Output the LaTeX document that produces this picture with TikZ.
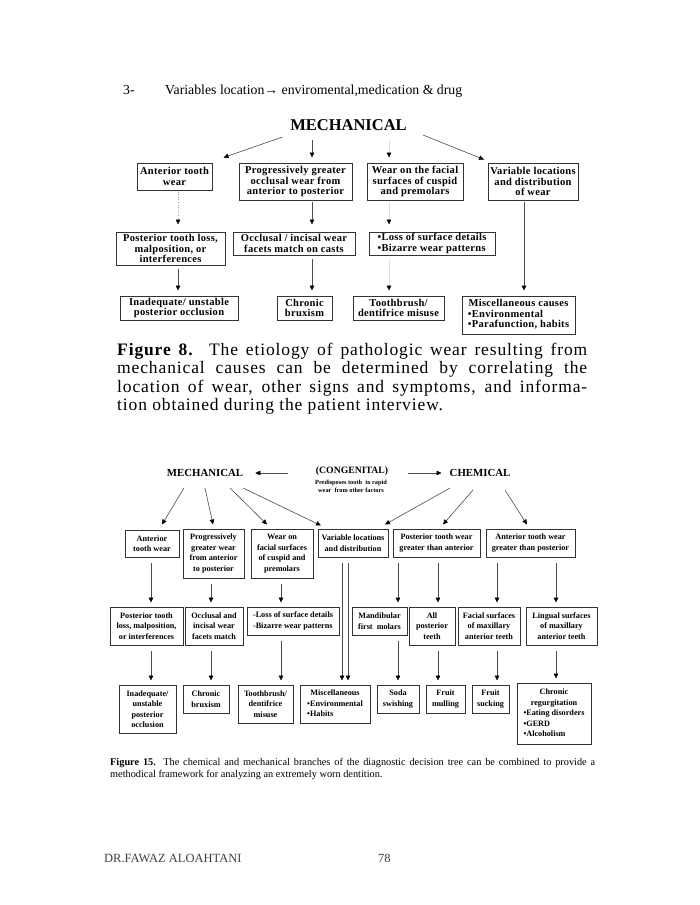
\documentclass[tikz,border=0pt]{standalone}
\usepackage{fontspec}
\setmainfont{Liberation Serif}
\newfontfamily\spaced[LetterSpace=3]{Liberation Serif}
\newfontfamily\capfont[LetterSpace=5]{Liberation Serif}
\usetikzlibrary{arrows.meta,calc}
\begin{document}
\begin{tikzpicture}[x=1pt,y=-1pt,
  sz/.style 2 args={minimum width=#1pt, minimum height=#2pt},
  tbox/.style={draw=black!80, line width=1pt, inner sep=0pt, align=center,
    font=\spaced\bfseries\fontsize{10.5}{10.5}\selectfont},
  bbox/.style={draw=black!80, line width=1pt, inner sep=0pt, align=center,
    font=\bfseries\fontsize{8.2}{10.5}\selectfont},
  arr/.style={draw=black!70, line width=0.6pt, -{Triangle[length=5pt,width=4.5pt,color=black]}},
  farr/.style={draw=black!12, line width=0.6pt, -{Triangle[length=5pt,width=4.5pt,color=black]}},
  darr/.style={draw=black!35, line width=0.6pt, dotted, -{Triangle[length=5pt,width=4.5pt,color=black]}},
  tv/.style={shorten <=1pt, shorten >=7pt},
  bv/.style={shorten <=5pt, shorten >=4pt},
  lbl/.style={inner sep=0pt}
]
\fill[white] (0,0) rectangle (700,905);
\useasboundingbox (0,0) rectangle (700,905);

% ---------- heading ----------
\node[lbl, anchor=base west, font=\fontsize{13.8}{16}\selectfont] (n3) at (123,94) {3-};
\node[lbl, anchor=base west, font=\fontsize{13.8}{16}\selectfont] (h3) at (165,94) {Variables location→ enviromental,medication \& drug};

% ---------- top diagram ----------
\node[lbl, font=\bfseries\fontsize{16.5}{18}\selectfont] (M1) at (348.5,125) {MECHANICAL};

\node[tbox, sz={75}{27}] (A1) at (174.5,176.5) {Anterior tooth\\wear};
\node[tbox, sz={113}{37}] (A2) at (295.5,181.5) {Progressively greater\\occlusal wear from\\anterior to posterior};
\node[tbox, sz={96}{37}] (A3) at (415,181.5) {Wear on the facial\\surfaces of cuspid\\and premolars};
\node[tbox, sz={90}{37}] (A4) at (533,181.5) {Variable locations\\and distribution\\of wear};

\node[tbox, sz={109}{33}] (B1) at (170.5,248.5) {Posterior tooth loss,\\malposition, or\\interferences};
\node[tbox, sz={122}{23}] (B2) at (294,243.5) {Occlusal / incisal wear\\facets match on casts};
\node[tbox, sz={126}{23}, align=left] (B3) at (432,243.5) {•Loss of surface details\\•Bizarre wear patterns};

\node[tbox, sz={118}{24}] (C1) at (179,308) {Inadequate/ unstable\\posterior occlusion};
\node[tbox, sz={55}{24}] (C2) at (304.5,308) {Chronic\\bruxism};
\node[tbox, sz={91}{24}] (C3) at (398.5,308) {Toothbrush/\\dentifrice misuse};
\node[tbox, sz={113}{38}] (C4) at (518.5,315) {\begin{tabular}{@{}l@{}}\multicolumn{1}{@{}c@{}}{Miscellaneous causes}\\•Environmental\\•Parafunction, habits\end{tabular}};

\coordinate (x178) at (178,0);
\coordinate (x312) at (312,0);
\coordinate (x389) at (389,0);
\coordinate (x524) at (524,0);

\draw[arr] ($(M1.center)+(-66,12)$) -- ($(A1.north east)+(11,-5)$);
\draw[arr] ($(M1.center)+(-36.5,15)$) -- ($(A2.north -| x312)+(0,-5)$);
\draw[farr, shorten >=5pt] ($(M1.center)+(40.5,15)$) -- (A3.north -| x389);
\draw[arr] ($(M1.center)+(74.5,10)$) -- ($(A4.north)+(-49,-3)$);

\draw[darr, tv] (A1.south -| x178) -- (B1.north -| x178);
\draw[arr, tv] (A2.south -| x312) -- (B2.north -| x312);
\draw[farr, tv] (A3.south -| x389) -- (B3.north -| x389);
\draw[arr, shorten <=1pt, shorten >=5pt] (A4.south -| x524) -- (C4.north -| x524);

\draw[arr, shorten <=3pt, shorten >=5pt] (B1.south -| x178) -- (C1.north -| x178);
\draw[arr, shorten <=3pt, shorten >=5pt] (B2.south -| x312) -- (C2.north -| x312);
\draw[farr, shorten <=3pt, shorten >=5pt] (B3.south -| x389) -- (C3.north -| x389);

% ---------- caption figure 8 ----------
\node[lbl, anchor=base west] (cap8) at (117,355) {\parbox[t]{470pt}{\capfont\fontsize{17.5}{18.6}\selectfont\hyphenpenalty=10000
\textbf{Figure 8.}\ \ The etiology of pathologic wear resulting from\linebreak
mechanical causes can be determined by correlating the\linebreak
location of wear, other signs and symptoms, and informa-\linebreak
tion obtained during the patient interview.}};

% ---------- bottom diagram ----------
\node[lbl, font=\bfseries\fontsize{10.8}{12}\selectfont] (M2) at (205,473) {MECHANICAL};
\node[lbl, font=\bfseries\fontsize{9.7}{11}\selectfont] (CG) at (352,471) {(CONGENITAL)};
\node[lbl, align=center, font=\bfseries\fontsize{6.3}{8.5}\selectfont] (CGs) at (351,486.5) {Predisposes tooth\ \ to rapid\\wear\ \ from other factors};
\node[lbl, font=\bfseries\fontsize{10.8}{12}\selectfont] (CH) at (480,473) {CHEMICAL};

\node[bbox, sz={54}{27}] (D1) at (152,543.5) {Anterior\\tooth wear};
\node[bbox, sz={61}{49}] (D2) at (213.5,553.5) {Progressively\\greater wear\\from anterior\\to posterior};
\node[bbox, sz={62}{49}] (D3) at (282,553.5) {Wear on\\facial surfaces\\of cuspid and\\premolars};
\node[bbox, sz={70}{28}] (D4) at (353,543) {Variable locations\\and distribution};
\node[bbox, sz={87}{28}] (D5) at (436.5,543) {Posterior tooth wear\\greater than anterior};
\node[bbox, sz={89}{28}] (D6) at (530.5,543) {Anterior tooth wear\\greater than posterior};

\node[bbox, sz={73}{38}] (E1) at (146.5,626) {Posterior tooth\\loss, malposition,\\or interferences};
\node[bbox, sz={58}{38}] (E2) at (214,626) {Occlusal and\\incisal wear\\facets match};
\node[bbox, sz={92}{28}, align=left] (E3) at (293,621) {-Loss of surface details\\-Bizarre wear patterns};
\node[bbox, sz={55}{28}] (E4) at (379.5,621) {Mandibular\\first\ \ molars};
\node[bbox, sz={46}{38}] (E5) at (432,626) {All\\posterior\\teeth};
\node[bbox, sz={62}{38}] (E6) at (489,626) {Facial surfaces\\of maxillary\\anterior teeth};
\node[bbox, sz={71}{38}] (E7) at (561.5,626) {Lingual surfaces\\of maxillary\\anterior teeth};

\node[bbox, sz={57}{48}] (F1) at (147.5,709) {Inadequate/\\unstable\\posterior\\occlusion};
\node[bbox, sz={46}{28}] (F2) at (206,699) {Chronic\\bruxism};
\node[bbox, sz={55}{38}] (F3) at (265.5,704) {Toothbrush/\\dentifrice\\misuse};
\node[bbox, sz={70}{38}] (F4) at (335,704) {\begin{tabular}{@{}l@{}}\multicolumn{1}{@{}c@{}}{Miscellaneous}\\•Environmental\\•Habits\end{tabular}};
\node[bbox, sz={42}{28}] (F5) at (398,699) {Soda\\swishing};
\node[bbox, sz={39}{28}] (F6) at (445.5,699) {Fruit\\mulling};
\node[bbox, sz={37}{28}] (F7) at (490.5,699) {Fruit\\sucking};
\node[bbox, sz={74}{61}] (F8) at (554,713.5) {\begin{tabular}{@{}l@{}}\multicolumn{1}{@{}c@{}}{Chronic}\\\multicolumn{1}{@{}c@{}}{regurgitation}\\•Eating disorders\\•GERD\\•Alcoholism\end{tabular}};

\draw[arr, shorten <=28pt, shorten >=12pt] (CG.west |- M2.east) -- (M2.east);
\draw[arr, shorten <=20pt, shorten >=8pt] (CG.east |- CH.west) -- (CH.west);

\draw[arr] ($(M2.center)+(-21,15)$) -- ($(D1.north)+(10,-5)$);
\draw[arr] ($(M2.center)+(0,15)$) -- ($(D2.north)+(-0.5,-4)$);
\draw[arr] ($(M2.center)+(25,15)$) -- ($(D3.north)+(-15,-4)$);
\draw[arr] ($(M2.center)+(38,15)$) -- ($(D4.north)+(-32,-3)$);
\draw[arr] ($(CH.center)+(-30,15)$) -- ($(D4.north)+(32,-4)$);
\draw[arr] ($(CH.center)+(-7,17)$) -- ($(D5.north)+(6.5,-4)$);
\draw[arr] ($(CH.center)+(25,17)$) -- ($(D6.north)+(-3.5,-4)$);

\coordinate (b151) at (151,0);
\coordinate (b211) at (211,0);
\coordinate (b281) at (281,0);
\coordinate (b342) at (342,0);
\coordinate (b348) at (348,0);
\coordinate (b398) at (398,0);
\coordinate (b438) at (438,0);
\coordinate (b497) at (497,0);
\coordinate (b556) at (556,0);

\draw[arr, bv] (D1.south -| b151) -- (E1.north -| b151);
\draw[arr, bv] (D2.south -| b211) -- (E2.north -| b211);
\draw[arr, bv] (D3.south -| b281) -- (E3.north -| b281);
\draw[arr, bv] (D5.south -| b398) -- (E4.north -| b398);
\draw[arr, bv] (D5.south -| b438) -- (E5.north -| b438);
\draw[arr, bv] (D6.south -| b497) -- (E6.north -| b497);
\draw[arr, bv] (D6.south -| b556) -- (E7.north -| b556);
\draw[arr, bv] (D4.south -| b342) -- (F4.north -| b342);
\draw[arr, bv] (D4.south -| b348) -- (F4.north -| b348);

\draw[arr, bv] (E1.south -| b151) -- (F1.north -| b151);
\draw[arr, bv] (E2.south -| b211) -- (F2.north -| b211);
\draw[arr, bv] (E3.south -| b281) -- (F3.north -| b281);
\draw[arr, bv] (E4.south -| b398) -- (F5.north -| b398);
\draw[arr, bv] (E5.south -| b438) -- (F6.north -| b438);
\draw[arr, bv] (E6.south -| b497) -- (F7.north -| b497);
\draw[arr, bv] (E7.south -| b556) -- (F8.north -| b556);

% ---------- caption figure 15 ----------
\node[lbl, anchor=base west] (cap15) at (110,765) {\parbox[t]{485pt}{\fontsize{10.3}{12}\selectfont\hyphenpenalty=10000
\textbf{Figure 15.} The chemical and mechanical branches of the diagnostic decision tree can be combined to provide a\linebreak
methodical framework for analyzing an extremely worn dentition.}};

% ---------- footer ----------
\begin{scope}
\clip (90,840) rectangle (420,861);
\node[lbl, anchor=base west, font=\fontsize{12.5}{14}\selectfont, text=black!75] (ft) at (104,862) {DR.FAWAZ ALQAHTANI};
\node[lbl, anchor=base west, font=\fontsize{12.5}{14}\selectfont, text=black!75] (pg) at (378,862) {78};
\end{scope}
\end{tikzpicture}
\end{document}
